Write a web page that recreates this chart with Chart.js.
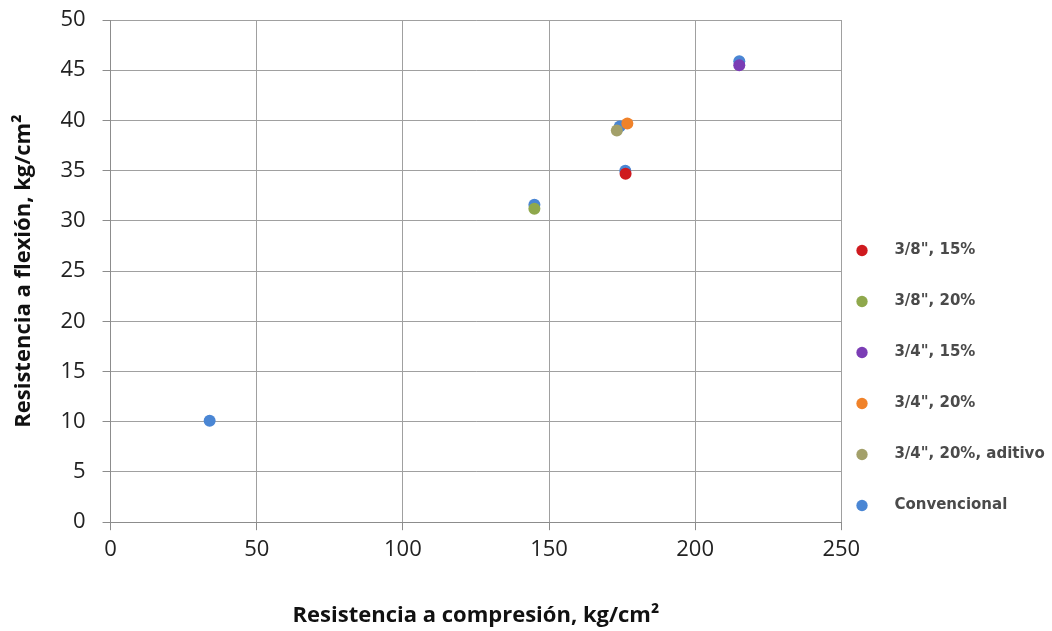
<!DOCTYPE html>
<html>
<head>
<meta charset="utf-8">
<script src="https://cdn.jsdelivr.net/npm/chart.js@4.4.1/dist/chart.umd.min.js"></script>
<style>
  html, body { margin: 0; padding: 0; background: #fff; }
  #wrap { width: 1052px; height: 631px; }
</style>
</head>
<body>
<div id="wrap"><canvas id="chart" width="1052" height="631"></canvas></div>
<script>
// ─── Data ───
const seriesNames = ['3/8", 15%', '3/8", 20%', '3/4", 15%', '3/4", 20%', '3/4", 20%, aditivo', 'Convencional'];
const seriesColors = ['#cf1a1f', '#8fa84c', '#7b3db5', '#f0822a', '#a3a06a', '#4a86d4'];

const s1x = [176.2];  const s1y = [34.7];   // 3/8", 15%
const s2x = [145];    const s2y = [31.2];   // 3/8", 20%
const s3x = [215.1];  const s3y = [45.5];   // 3/4", 15%
const s4x = [176.8];  const s4y = [39.7];   // 3/4", 20%
const s5x = [173.2];  const s5y = [39.0];   // 3/4", 20%, aditivo
const convX = [33.9, 145, 174.2, 176.1, 215.1];
const convY = [10.1, 31.6, 39.4, 35.0, 45.9];

const xTicks = [0, 50, 100, 150, 200, 250];
const yTicks = [0, 5, 10, 15, 20, 25, 30, 35, 40, 45, 50];

const xs = [s1x, s2x, s3x, s4x, s5x, convX];
const ys = [s1y, s2y, s3y, s4y, s5y, convY];

const FONT = '"Open Sans", sans-serif';
const LEGEND_FONT = '"DejaVu Sans", sans-serif';

const datasets = seriesNames.map((name, i) => ({
  label: name,
  data: xs[i].map((x, k) => ({ x: x, y: ys[i][k] })),
  backgroundColor: seriesColors[i],
  borderColor: seriesColors[i],
  pointRadius: 6,
  pointHoverRadius: 6,
  pointBorderWidth: 0,
  showLine: false
}));

// the legend sits a bit inside the free right-hand strip, lower than centre
const legendPlace = {
  id: 'legendPlace',
  afterLayout(chart) {
    const lg = chart.legend;
    if (!lg) return;
    lg.left = 822;
    lg.top = 207;
  }
};

new Chart(document.getElementById('chart'), {
  type: 'scatter',
  data: { datasets },
  plugins: [legendPlace],
  options: {
    responsive: false,
    animation: false,
    layout: { padding: { top: 20, right: -22, left: 11, bottom: 2 } },
    plugins: {
      tooltip: { enabled: false },
      legend: {
        position: 'right',
        align: 'start',
        labels: {
          usePointStyle: true,
          pointStyle: 'circle',
          boxWidth: 8,
          boxHeight: 8,
          padding: 36,
          color: '#4a4a4a',
          font: { family: LEGEND_FONT, size: 15, weight: 'bold' },
          generateLabels(chart) {
            const items = Chart.defaults.plugins.legend.labels.generateLabels(chart);
            items.forEach(it => { it.text = '    ' + it.text; });
            return items;
          }
        }
      }
    },
    scales: {
      x: {
        type: 'linear',
        min: 0, max: 250,
        afterBuildTicks: s => { s.ticks = xTicks.map(v => ({ value: v })); },
        grid: { color: '#a0a0a0', lineWidth: 1, drawTicks: true, tickLength: 8, tickColor: '#8c8c8c' },
        border: { color: '#8c8c8c', width: 1 },
        ticks: { color: '#222', padding: 6, font: { family: FONT, size: 22 } },
        title: {
          display: true,
          text: 'Resistencia a compresión, kg/cm²',
          color: '#111',
          padding: { top: 34, bottom: 0 },
          font: { family: FONT, size: 22, weight: 'bold' }
        }
      },
      y: {
        type: 'linear',
        min: 0, max: 50,
        afterBuildTicks: s => { s.ticks = yTicks.map(v => ({ value: v })); },
        afterFit: s => { s.paddingTop = 0; s.paddingBottom = 0; },
        grid: { color: '#a0a0a0', lineWidth: 1, drawTicks: true, tickLength: 8, tickColor: '#8c8c8c' },
        border: { color: '#8c8c8c', width: 1 },
        ticks: { color: '#222', padding: 17, font: { family: FONT, size: 22 } },
        title: {
          display: true,
          text: 'Resistencia a flexión, kg/cm²',
          color: '#111',
          padding: { top: 0, bottom: 6 },
          font: { family: FONT, size: 22, weight: 'bold' }
        }
      }
    }
  }
});
</script>
</body>
</html>
